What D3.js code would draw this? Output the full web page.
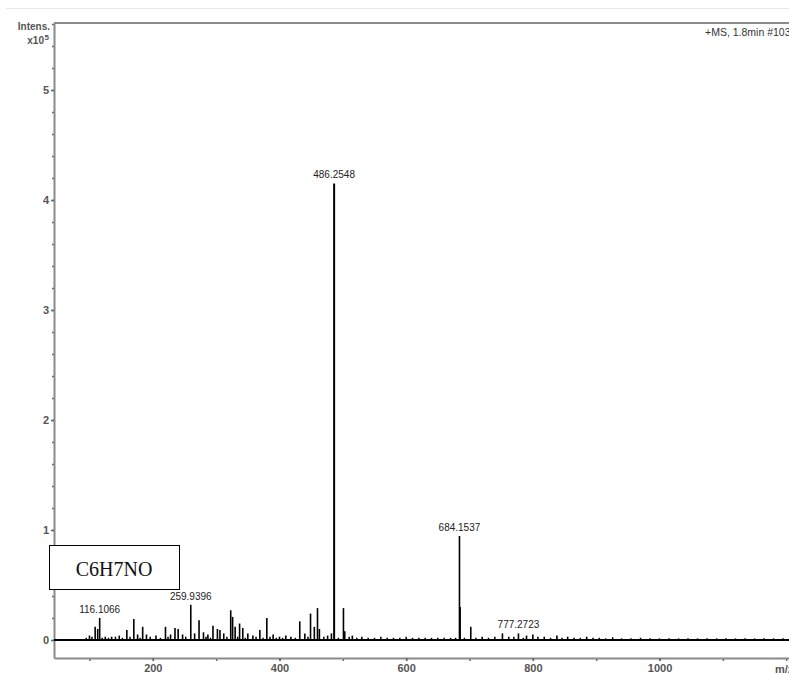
<!DOCTYPE html>
<html>
<head>
<meta charset="utf-8">
<script src="https://cdn.jsdelivr.net/npm/d3@7"></script>
<style>
  body { margin: 0; background: #fff; }
  svg { display: block; }
</style>
</head>
<body>
<div id="chart"></div>
<script>
// peaks (m/z, intensity x10^5)
const peakMz  = [100, 109, 113, 116.1066, 125, 135, 147, 159, 170, 176, 184, 190, 205, 220, 228, 235, 240, 247,
                 259.9396, 266, 273, 280, 287, 295, 302, 306, 312, 323, 326, 330, 337, 342, 350, 358, 369, 380, 390,
                 400, 410, 418, 432, 440, 449, 455, 460, 463, 476, 482, 486.2548, 501, 503, 515, 530,
                 684.1537, 685.2, 702, 720, 752, 777.2723, 790, 800, 818, 838, 855, 885];
const peakInt = [0.04, 0.12, 0.10, 0.20, 0.03, 0.03, 0.04, 0.09, 0.19, 0.05, 0.12, 0.05, 0.04, 0.12, 0.05, 0.11, 0.10, 0.05,
                 0.32, 0.06, 0.18, 0.07, 0.05, 0.13, 0.10, 0.09, 0.06, 0.27, 0.21, 0.12, 0.15, 0.11, 0.06, 0.04, 0.09, 0.20, 0.05,
                 0.03, 0.04, 0.03, 0.17, 0.06, 0.24, 0.12, 0.29, 0.10, 0.04, 0.06, 4.15, 0.29, 0.08, 0.04, 0.03,
                 0.945, 0.30, 0.12, 0.03, 0.06, 0.06, 0.04, 0.05, 0.03, 0.04, 0.03, 0.03];

// baseline noise
const noiseMz  = [95, 104, 120, 130, 141, 152, 164, 180, 196, 212, 224, 252, 284, 291, 317, 334, 346, 363, 374, 385, 395,
                  405, 425, 445, 470, 493, 510, 522, 540, 550, 560, 570, 580, 590, 600, 610, 620, 630, 640, 650, 660, 670,
                  678, 692, 710, 730, 740, 762, 770, 785, 808, 828, 846, 865, 875, 895, 905, 915, 926, 940, 955, 970, 985,
                  1000, 1015, 1030, 1045, 1060, 1075, 1090, 1105, 1120, 1135, 1150, 1165, 1180, 1195];
const noiseInt = [0.02, 0.03, 0.02, 0.02, 0.03, 0.02, 0.03, 0.02, 0.03, 0.02, 0.03, 0.03, 0.03, 0.02, 0.03, 0.03, 0.02, 0.03, 0.02, 0.03, 0.02,
                  0.02, 0.02, 0.03, 0.03, 0.02, 0.03, 0.02, 0.02, 0.02, 0.03, 0.02, 0.02, 0.02, 0.03, 0.02, 0.02, 0.02, 0.02, 0.02, 0.02, 0.02,
                  0.02, 0.02, 0.02, 0.02, 0.03, 0.03, 0.03, 0.02, 0.03, 0.02, 0.02, 0.02, 0.02, 0.02, 0.02, 0.015, 0.025, 0.015, 0.015, 0.02, 0.015,
                  0.015, 0.015, 0.015, 0.015, 0.015, 0.015, 0.015, 0.015, 0.015, 0.015, 0.015, 0.015, 0.015, 0.015];

// annotated peaks
const labelMz   = [116.1066, 259.9396, 486.2548, 684.1537, 777.2723];
const labelText = ["116.1066", "259.9396", "486.2548", "684.1537", "777.2723"];

const yMajor = [0, 1, 2, 3, 4, 5];
const xMajor = [200, 400, 600, 800, 1000];

const width = 789, height = 675;

const svg = d3.select("#chart").append("svg")
    .attr("width", width)
    .attr("height", height);

const x = d3.scaleLinear().domain([44, 1206]).range([54, 790]);
const y = d3.scaleLinear().domain([-0.1636, 5.609]).range([658, 23]);

// faint page line at the top
svg.append("line")
    .attr("x1", 6).attr("x2", width)
    .attr("y1", 8.5).attr("y2", 8.5)
    .attr("stroke", "#e6e6e6");

// frame
svg.append("line")
    .attr("x1", 54).attr("x2", width)
    .attr("y1", 23).attr("y2", 23)
    .attr("stroke", "#8a8a8a").attr("stroke-width", 2);

const axisColor = "#8a8a8a";
const labelColor = "#555";
const font = "Liberation Sans, Arial, sans-serif";

// Y axis: minor then major
const yMinor = d3.range(0, 5.61, 0.2);
svg.append("g")
    .attr("transform", "translate(54,0)")
    .call(d3.axisLeft(y).tickValues(yMinor).tickSize(2).tickFormat(""))
    .call(g => g.select(".domain").remove())
    .selectAll("line").attr("stroke", "#666").attr("stroke-width", 1.5);

const yAxis = svg.append("g")
    .attr("transform", "translate(54,0)")
    .call(d3.axisLeft(y).tickValues(yMajor).tickSize(3).tickPadding(2).tickSizeOuter(0).tickFormat(d3.format("d")));
yAxis.select(".domain").attr("stroke", axisColor).attr("stroke-width", 2);
yAxis.selectAll("line").attr("stroke", "#666").attr("stroke-width", 1.5);
yAxis.selectAll("text")
    .attr("fill", labelColor)
    .style("font-family", font)
    .style("font-size", "11px")
    .style("font-weight", "bold");

// X axis
const xMinor = d3.range(100, 1201, 100);
svg.append("g")
    .attr("transform", "translate(0,658)")
    .call(d3.axisBottom(x).tickValues(xMinor).tickSize(3).tickFormat(""))
    .call(g => g.select(".domain").remove())
    .selectAll("line").attr("stroke", "#666").attr("stroke-width", 1.5);

const xAxis = svg.append("g")
    .attr("transform", "translate(0,658)")
    .call(d3.axisBottom(x).tickValues(xMajor).tickSize(3).tickPadding(3).tickSizeOuter(0).tickFormat(d3.format("d")));
xAxis.select(".domain").attr("stroke", axisColor).attr("stroke-width", 2);
xAxis.selectAll("line").attr("stroke", "#666").attr("stroke-width", 1.5);
xAxis.selectAll("text")
    .attr("fill", labelColor)
    .style("font-family", font)
    .style("font-size", "11px")
    .style("font-weight", "bold");

svg.append("text")
    .attr("x", 775).attr("y", 673)
    .attr("fill", labelColor)
    .style("font-family", font)
    .style("font-size", "11px")
    .style("font-weight", "bold")
    .text("m/z");

// axis title
svg.append("text")
    .attr("x", 50).attr("y", 30)
    .attr("text-anchor", "end")
    .attr("fill", labelColor)
    .style("font-family", font)
    .style("font-size", "10px")
    .style("font-weight", "bold")
    .text("Intens.");
svg.append("text")
    .attr("x", 44).attr("y", 44)
    .attr("text-anchor", "end")
    .attr("fill", labelColor)
    .style("font-family", font)
    .style("font-size", "10px")
    .style("font-weight", "bold")
    .text("x10");
svg.append("text")
    .attr("x", 44.5).attr("y", 40)
    .attr("fill", labelColor)
    .style("font-family", font)
    .style("font-size", "8px")
    .style("font-weight", "bold")
    .text("5");

svg.append("text")
    .attr("x", 705).attr("y", 36)
    .attr("fill", "#333")
    .style("font-family", font)
    .style("font-size", "10.5px")
    .text("+MS, 1.8min #1032");

// spectrum: baseline + sticks
const spec = svg.append("g");
spec.append("line")
    .attr("x1", x(44)).attr("x2", width)
    .attr("y1", y(0)).attr("y2", y(0))
    .attr("stroke", "#000").attr("stroke-width", 2.2);

spec.selectAll("line.noise")
    .data(noiseMz.map((m, i) => ({ mz: m, v: noiseInt[i] })))
    .enter().append("line")
    .attr("class", "noise")
    .attr("x1", d => x(d.mz)).attr("x2", d => x(d.mz))
    .attr("y1", y(0)).attr("y2", d => y(d.v))
    .attr("stroke", "#000").attr("stroke-width", 1.5);

spec.selectAll("line.peak")
    .data(peakMz.map((m, i) => ({ mz: m, v: peakInt[i] })))
    .enter().append("line")
    .attr("class", "peak")
    .attr("x1", d => x(d.mz)).attr("x2", d => x(d.mz))
    .attr("y1", y(0) + 1).attr("y2", d => y(d.v))
    .attr("stroke", "#000")
    .attr("stroke-width", d => d.v > 1 ? 2 : 1.6);

// peak labels
spec.selectAll("text.plabel")
    .data(labelMz.map((m, i) => ({ mz: m, t: labelText[i], v: peakInt[peakMz.indexOf(m)] })))
    .enter().append("text")
    .attr("class", "plabel")
    .attr("x", d => x(d.mz))
    .attr("y", d => y(d.v) - 5)
    .attr("text-anchor", "middle")
    .attr("fill", "#222")
    .style("font-family", font)
    .style("font-size", "10px")
    .text(d => d.t);

// compound box
svg.append("rect")
    .attr("x", 49.5).attr("y", 545.5)
    .attr("width", 130).attr("height", 44)
    .attr("fill", "#fff")
    .attr("stroke", "#000").attr("stroke-width", 1);
svg.append("text")
    .attr("x", 114).attr("y", 576)
    .attr("text-anchor", "middle")
    .attr("fill", "#111")
    .style("font-family", "Liberation Serif, Times New Roman, serif")
    .style("font-size", "20px")
    .text("C6H7NO");
</script>
</body>
</html>
